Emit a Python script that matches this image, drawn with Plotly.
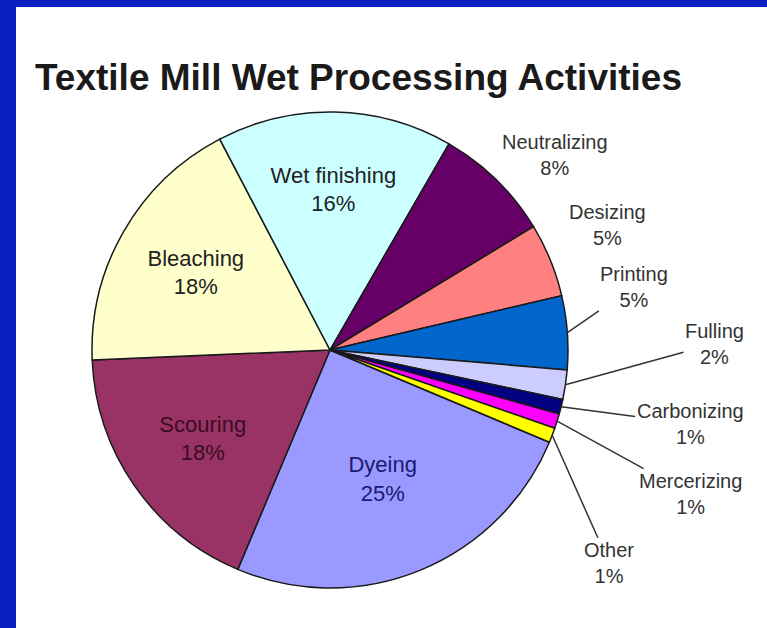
import math
import plotly.graph_objects as go

# Data (Excel order: first slice Dyeing, clockwise)
categories = ["Dyeing", "Scouring", "Bleaching", "Wet finishing", "Neutralizing",
              "Desizing", "Printing", "Fulling", "Carbonizing", "Mercerizing", "Other"]
shares = [25, 18, 18, 16, 8, 5, 5, 2, 1, 1, 1]

colors = ["#9999FF", "#993366", "#FFFFCC", "#CCFFFF", "#660066", "#FF8080",
          "#0066CC", "#CCCCFF", "#000080", "#FF00FF", "#FFFF00"]
inside = [True, True, True, True, False, False, False, False, False, False, False]
text_col = ["#1a1a70", "#3a0c22", "#222222", "#222222", "#333333", "#333333",
            "#333333", "#333333", "#333333", "#333333", "#333333"]
# label offsets (pixels) from slice rim for outside labels, and whether a leader line shows
label_dx = [0, 0, 0, 0, 58, 57, 67, 149, 129, 133, 57]
label_dy = [0, 0, 0, 0, -27, -37, -48, -43, 15, 71, 126]
leader = [False, False, False, False, False, False, True, True, True, True, True]

W, H = 767, 628
cx, cy, r = 330, 350, 238
ROT = 112.8
FONT = "Liberation Sans, Arial, sans-serif"

fig = go.Figure(go.Pie(
    labels=categories,
    values=shares,
    sort=False,
    direction="clockwise",
    rotation=ROT,
    marker=dict(colors=colors, line=dict(color="#1a1a1a", width=1.5)),
    textposition=["inside" if i else "none" for i in inside],
    texttemplate=[f"{c}<br>{v}%" if i else "" for c, v, i in zip(categories, shares, inside)],
    textfont=dict(family=FONT, size=22, color=text_col),
    insidetextorientation="horizontal",
    showlegend=False,
    hoverinfo="label+percent",
    domain=dict(x=[(cx - r) / W, (cx + r) / W],
                y=[(H - cy - r) / H, (H - cy + r) / H]),
))

# outside labels as annotations anchored to the rim at each slice's mid-angle
total = sum(shares)
cum = 0
annotations = []
for i, (c, v) in enumerate(zip(categories, shares)):
    mid = ROT + (cum + v / 2) / total * 360
    cum += v
    if inside[i]:
        continue
    a = math.radians(mid)
    px = cx + r * math.sin(a)
    py = cy - r * math.cos(a)
    annotations.append(dict(
        x=px / W, y=1 - py / H, xref="paper", yref="paper",
        text=f"{c}<br>{v}%", showarrow=True,
        ax=label_dx[i], ay=label_dy[i] + 2, axref="pixel", ayref="pixel",
        arrowhead=0, arrowwidth=1.5,
        arrowcolor="#333333" if leader[i] else "rgba(0,0,0,0)",
        font=dict(family=FONT, size=20, color=text_col[i]),
        align="center",
    ))

fig.update_layout(
    width=W, height=H,
    margin=dict(l=0, r=0, t=0, b=0),
    paper_bgcolor="white",
    title=dict(text="<b>Textile Mill Wet Processing Activities</b>",
               x=35 / W, xanchor="left", y=1 - 77 / H, yanchor="middle",
               font=dict(family=FONT, size=37, color="#1a1a1a")),
    annotations=annotations,
    shapes=[
        dict(type="rect", xref="paper", yref="paper", x0=0, x1=16 / W, y0=0, y1=1,
             fillcolor="#0A1FBF", line=dict(width=0)),
        dict(type="rect", xref="paper", yref="paper", x0=0, x1=1, y0=1 - 7 / H, y1=1,
             fillcolor="#0A1FBF", line=dict(width=0)),
    ],
)

fig.write_html("out.html", config={"displayModeBar": False},
               post_script="document.body.style.margin='0';document.body.style.overflow='hidden';")
